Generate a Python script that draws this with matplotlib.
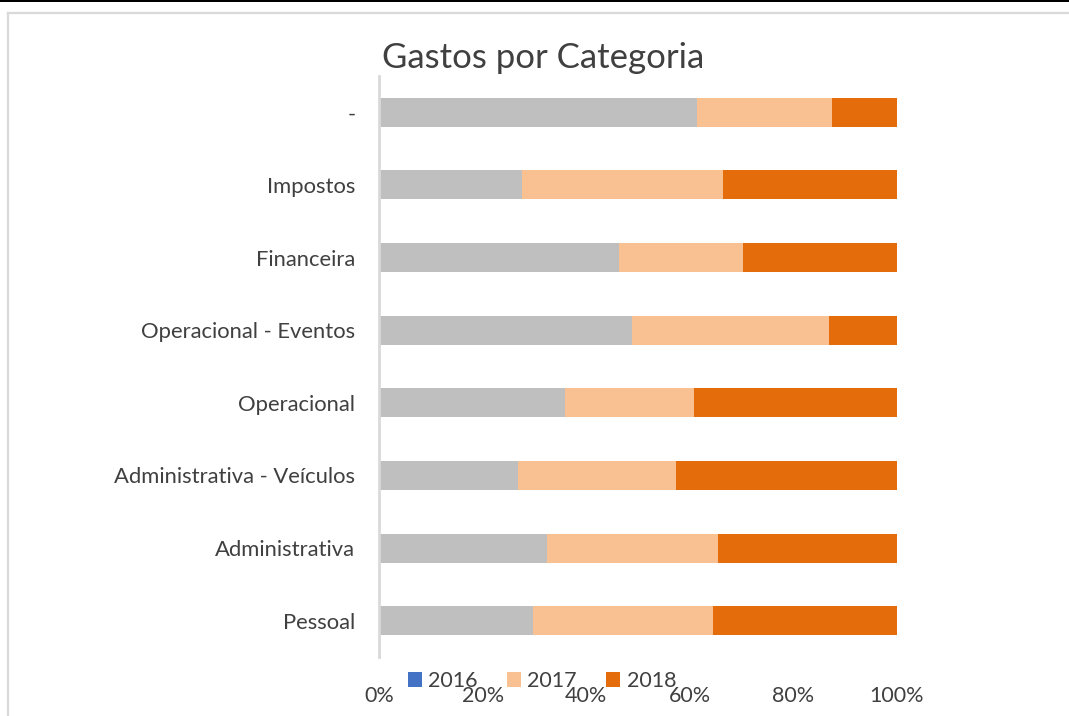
import matplotlib
matplotlib.use("Agg")
import matplotlib.pyplot as plt
from matplotlib.patches import Patch, Rectangle
from matplotlib.lines import Line2D
from matplotlib.ticker import FixedLocator, FuncFormatter

plt.rcParams['font.family'] = ['Lato', 'DejaVu Sans']

categories = ["Pessoal", "Administrativa", "Administrativa - Veículos", "Operacional",
              "Operacional - Eventos", "Financeira", "Impostos", "-"]
v2016 = [29.7, 32.4, 26.8, 35.9, 48.8, 46.3, 27.6, 61.4]
v2017 = [34.8, 33.0, 30.5, 24.9, 38.1, 24.0, 38.8, 26.1]
v2018 = [35.5, 34.6, 42.7, 39.2, 13.1, 29.7, 33.6, 12.5]
series_labels = ["2016", "2017", "2018"]
x_ticks = [0, 20, 40, 60, 80, 100]

bar_colors = ["#BFBFBF", "#F9C191", "#E46C0A"]
legend_colors = ["#4472C4", "#F9C191", "#E46C0A"]
text_color = "#404040"

W, H = 1069, 716
fig = plt.figure(figsize=(W / 100, H / 100), dpi=100)
fig.patch.set_facecolor("white")

# top black line and chart-area border
fig.add_artist(Rectangle((0, 1 - 2 / H), 1, 2 / H, transform=fig.transFigure,
                         facecolor="black", edgecolor="none"))
fig.add_artist(Line2D([8 / W, 8 / W], [0, 1 - 13 / H], transform=fig.transFigure,
                      color="#D9D9D9", lw=1.6))
fig.add_artist(Line2D([8 / W, 1], [1 - 13 / H, 1 - 13 / H], transform=fig.transFigure,
                      color="#D9D9D9", lw=1.6))

ax = fig.add_axes([379 / W, 1 - 657 / H, (897 - 379) / W, (657 - 76) / H])
ypos = list(range(len(categories)))
left = [0] * len(categories)
for vals, col, lab in zip([v2016, v2017, v2018], bar_colors, series_labels):
    ax.barh(ypos, vals, left=left, height=0.4, color=col, label=lab, edgecolor="none")
    left = [a + b for a, b in zip(left, vals)]

ax.set_xlim(0, 100)
ax.set_ylim(-0.5, len(categories) - 0.5)
ax.set_yticks(ypos)
ax.set_yticklabels(categories, fontsize=15.8, color=text_color)
ax.xaxis.set_major_locator(FixedLocator(x_ticks))
ax.xaxis.set_major_formatter(FuncFormatter(lambda v, p: f"{v:.0f}%"))
ax.tick_params(axis="x", labelsize=15.5, labelcolor=text_color, length=0, pad=21)
ax.tick_params(axis="y", length=0, pad=17)
for s in ["top", "right", "bottom"]:
    ax.spines[s].set_visible(False)
ax.spines["left"].set_color("#D9D9D9")
ax.spines["left"].set_linewidth(2)

fig.text(543 / W, 1 - 58 / H, "Gastos por Categoria", ha="center", va="center",
         fontsize=25, color=text_color)

handles = [Patch(facecolor=c, edgecolor="none") for c in legend_colors]
fig.legend(handles, series_labels, loc="center", bbox_to_anchor=(542 / W, 1 - 681 / H),
           ncol=3, frameon=False, fontsize=15.5, labelcolor=text_color,
           handlelength=0.65, handleheight=0.65, handletextpad=0.3, columnspacing=1.35)

fig.savefig("out.png", dpi=100, facecolor="white")
